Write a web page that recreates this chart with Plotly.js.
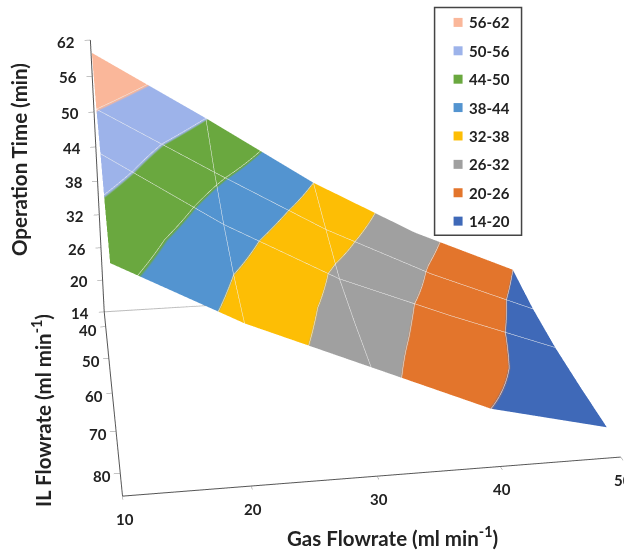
<!DOCTYPE html>
<html><head><meta charset="utf-8">
<script src="https://cdn.plot.ly/plotly-3.0.1.min.js"></script>
<style>html,body{margin:0;padding:0;background:#fff;overflow:hidden;width:624px;height:550px}#c{position:absolute}</style>
</head><body><div id="c"></div>
<script>
const gasFlow=[10,20,30,40,50];
const ilFlow=[40,50,60,70,80];
const row40=[61.5,50,38,28,20];
const row50=[56,45,34.4,25.5,18];
const row60=[53,41,31,23.6,16.7];
const row70=[49,38,29.3,22.2,16];
const row80=[46,36,28,20,15.5];
const bandColors=['#3f69b8','#e3752c','#a0a0a0','#fdbe05','#5394d0','#6aa83f','#9db3ea','#fab79a'];
const bandLabels=['14-20','20-26','26-32','32-38','38-44','44-50','50-56','56-62'];
const zTicks=[14,20,26,32,38,44,50,56,62];
// view: long lens, so the drawing area is larger than the window and offset inside it
const focal=1481.6, centerPx=275.87, centerPy=273.18;
const H=focal/1.2071, W=H, L=centerPx-W/2, T=centerPy-H/2;
const el=document.getElementById('c');
el.style.left=L+'px';el.style.top=T+'px';el.style.width=W+'px';el.style.height=H+'px';
const px=v=>(v-L)/W, py=v=>1-(v-T)/H;

const cs=[];
bandColors.forEach((c,i)=>{cs.push([i/8,c]);cs.push([(i+1)/8,c]);});
const surface={type:'surface',x:gasFlow,y:ilFlow,z:[row40,row50,row60,row70,row80],
 colorscale:cs,cmin:14,cmax:62,showscale:false,hoverinfo:'skip',
 lighting:{ambient:1,diffuse:0,specular:0,roughness:1,fresnel:0},
 contours:{x:{show:true,start:20,end:40,size:10,color:'#f2f2f2',width:2},
  y:{show:true,start:50,end:70,size:10,color:'#f2f2f2',width:2},
  z:{show:true,start:14,end:62,size:6,color:'#eeeeee',width:2}}};
const floor={type:'scatter3d',mode:'lines',x:[10,50,50],y:[35,35,85],z:[14,14,14],line:{color:'#bbbbbb',width:2},hoverinfo:'skip',showlegend:false};
const ax=(o)=>Object.assign({title:{text:''},showbackground:false,showgrid:false,zeroline:false,showline:true,linecolor:'#555',linewidth:2,
 ticks:'outside',ticklen:5,tickcolor:'#888',showspikes:false,showticklabels:false},o);
const shapes=[{type:'rect',xref:'paper',yref:'paper',x0:px(435),x1:px(522),y0:py(236),y1:py(8),line:{color:'#444',width:1.5},fillcolor:'#fff'}];
const annotations=[];
const order=bandLabels.slice().reverse(), ordC=bandColors.slice().reverse();
order.forEach((l,i)=>{
 const yc=23+i*28.4;
 shapes.push({type:'rect',xref:'paper',yref:'paper',x0:px(454),x1:px(463),y0:py(yc+4.5),y1:py(yc-4.5),fillcolor:ordC[i],line:{width:0}});
 annotations.push({xref:'paper',yref:'paper',x:px(467),y:py(yc),xanchor:'left',yanchor:'middle',showarrow:false,text:'<b>'+l+'</b>',font:{family:'Lato',size:15,color:'#222'}});
});
const tf={family:'Lato',size:15,color:'#222'};
const titleF={family:'Lato',size:20.5,color:'#222'};
const title=(x,y,text,angle)=>({xref:'paper',yref:'paper',x:px(x),y:py(y),xanchor:'center',yanchor:'middle',showarrow:false,textangle:angle,text:'<b>'+text+'</b>',font:titleF});
annotations.push(title(393,537,'Gas Flowrate (ml min<sup>-1</sup>)',0));
annotations.push(title(42,411,'IL Flowrate (ml min<sup>-1</sup>)',-90));
annotations.push(title(20,160,'Operation Time (min)',-90));
const sa=[];
gasFlow.forEach(v=>sa.push({x:v,y:85,z:14,text:'<b>'+v+'</b>',showarrow:false,xshift:2,yshift:-23,font:tf}));
ilFlow.forEach(v=>sa.push({x:10,y:v,z:14,text:'<b>'+v+'</b>',showarrow:false,xshift:-18,yshift:-3,font:tf}));
zTicks.forEach(v=>sa.push({x:10,y:35,z:Math.min(v,61.9),text:'<b>'+v+'</b>',showarrow:false,xshift:-24,yshift:-1,font:tf}));
Plotly.newPlot('c',[surface,floor],{width:W,height:H,margin:{l:0,r:0,t:0,b:0},paper_bgcolor:'#fff',showlegend:false,
 shapes,annotations,
 scene:{domain:{x:[0,1],y:[0,1]},aspectmode:'manual',aspectratio:{x:1.181,y:1,z:0.8},
  camera:{eye:{x:-0.669,y:-3.402,z:1.407},center:{x:-0.195,y:-0.201,z:0},up:{x:0.003,y:0,z:1}},
  annotations:sa,
  xaxis:ax({range:[10,50],tickvals:gasFlow}),yaxis:ax({range:[85,35],tickvals:ilFlow}),zaxis:ax({range:[14,62],tickvals:zTicks})}
},{displayModeBar:false});
</script></body></html>
